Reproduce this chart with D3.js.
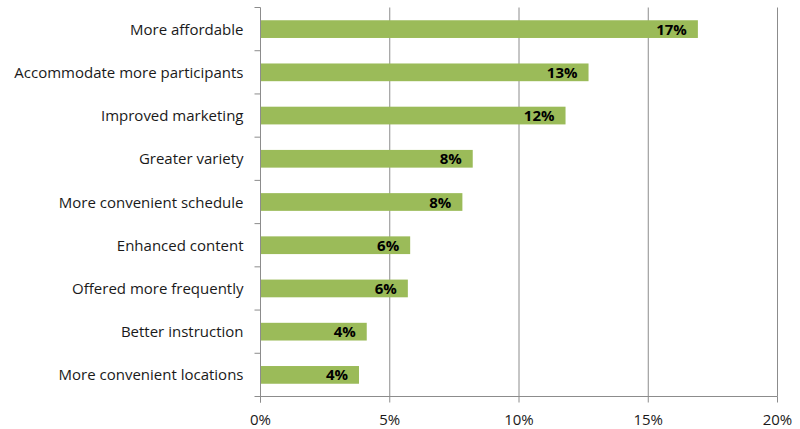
<!DOCTYPE html>
<html>
<head>
<meta charset="utf-8">
<script src="https://d3js.org/d3.v7.min.js"></script>
<style>
  body { margin: 0; background: #fff; }
  text { font-family: "Open Sans", "Noto Sans", sans-serif; }
</style>
</head>
<body>
<div id="chart"></div>
<script>
  var categories = ["More affordable", "Accommodate more participants", "Improved marketing",
    "Greater variety", "More convenient schedule", "Enhanced content",
    "Offered more frequently", "Better instruction", "More convenient locations"];
  var values = [16.92, 12.69, 11.80, 8.21, 7.81, 5.79, 5.70, 4.11, 3.81];
  var labels = ["17%", "13%", "12%", "8%", "8%", "6%", "6%", "4%", "4%"];
  var xTicks = [0, 5, 10, 15, 20];

  var width = 800, height = 429;
  var margin = { top: 7.5, right: 22.5, bottom: 32.5, left: 260.5 };

  var svg = d3.select("#chart").append("svg")
    .attr("width", width)
    .attr("height", height);

  var x = d3.scaleLinear().domain([0, 20]).range([margin.left, width - margin.right]);
  var y = d3.scaleBand().domain(categories).range([margin.top, height - margin.bottom]).paddingInner(0.59).paddingOuter(0.295);
  var yOuter = d3.scaleBand().domain(categories).range([margin.top, height - margin.bottom]);

  // gridlines
  svg.append("g").selectAll("line")
    .data(xTicks.slice(1))
    .enter().append("line")
    .attr("x1", d => x(d)).attr("x2", d => x(d))
    .attr("y1", margin.top).attr("y2", height - margin.bottom)
    .attr("stroke", "#8c8c8c").attr("stroke-width", 1);

  // bars
  svg.append("g").selectAll("rect")
    .data(categories)
    .enter().append("rect")
    .attr("x", x(0))
    .attr("y", d => y(d))
    .attr("width", (d, i) => x(values[i]) - x(0))
    .attr("height", y.bandwidth())
    .attr("fill", "#9bbb59");

  // value labels
  svg.append("g").selectAll("text")
    .data(categories)
    .enter().append("text")
    .attr("x", (d, i) => x(values[i]) - 11)
    .attr("y", d => y(d) + y.bandwidth() / 2 + 5.5)
    .attr("text-anchor", "end")
    .attr("font-size", 15)
    .attr("font-weight", "bold")
    .attr("fill", "#000")
    .text((d, i) => labels[i]);

  // y axis line and ticks between categories
  var yAxis = svg.append("g").attr("stroke", "#8c8c8c");
  yAxis.append("line")
    .attr("x1", x(0)).attr("x2", x(0))
    .attr("y1", margin.top).attr("y2", height - margin.bottom + 6);
  yAxis.selectAll(".tk")
    .data(categories)
    .enter().append("line")
    .attr("class", "tk")
    .attr("x1", x(0) - 6).attr("x2", x(0))
    .attr("y1", d => yOuter(d)).attr("y2", d => yOuter(d));
  yAxis.append("line")
    .attr("x1", x(0) - 6).attr("x2", x(0))
    .attr("y1", height - margin.bottom).attr("y2", height - margin.bottom);

  svg.append("g").selectAll("text")
    .data(categories)
    .enter().append("text")
    .attr("x", x(0) - 17)
    .attr("y", d => yOuter(d) + yOuter.bandwidth() / 2 + 5.5)
    .attr("text-anchor", "end")
    .attr("font-size", 15)
    .attr("fill", "#1a1a1a")
    .text(d => d);

  // x axis
  var xAxis = svg.append("g").attr("stroke", "#8c8c8c");
  xAxis.append("line")
    .attr("x1", x(0)).attr("x2", x(20))
    .attr("y1", height - margin.bottom).attr("y2", height - margin.bottom);
  xAxis.selectAll(".tk")
    .data(xTicks)
    .enter().append("line")
    .attr("class", "tk")
    .attr("x1", d => x(d)).attr("x2", d => x(d))
    .attr("y1", height - margin.bottom).attr("y2", height - margin.bottom + 6);

  svg.append("g").selectAll("text")
    .data(xTicks)
    .enter().append("text")
    .attr("x", d => x(d))
    .attr("y", height - margin.bottom + 28)
    .attr("text-anchor", "middle")
    .attr("font-size", 15)
    .attr("fill", "#1a1a1a")
    .text(d => d + "%");
</script>
</body>
</html>
